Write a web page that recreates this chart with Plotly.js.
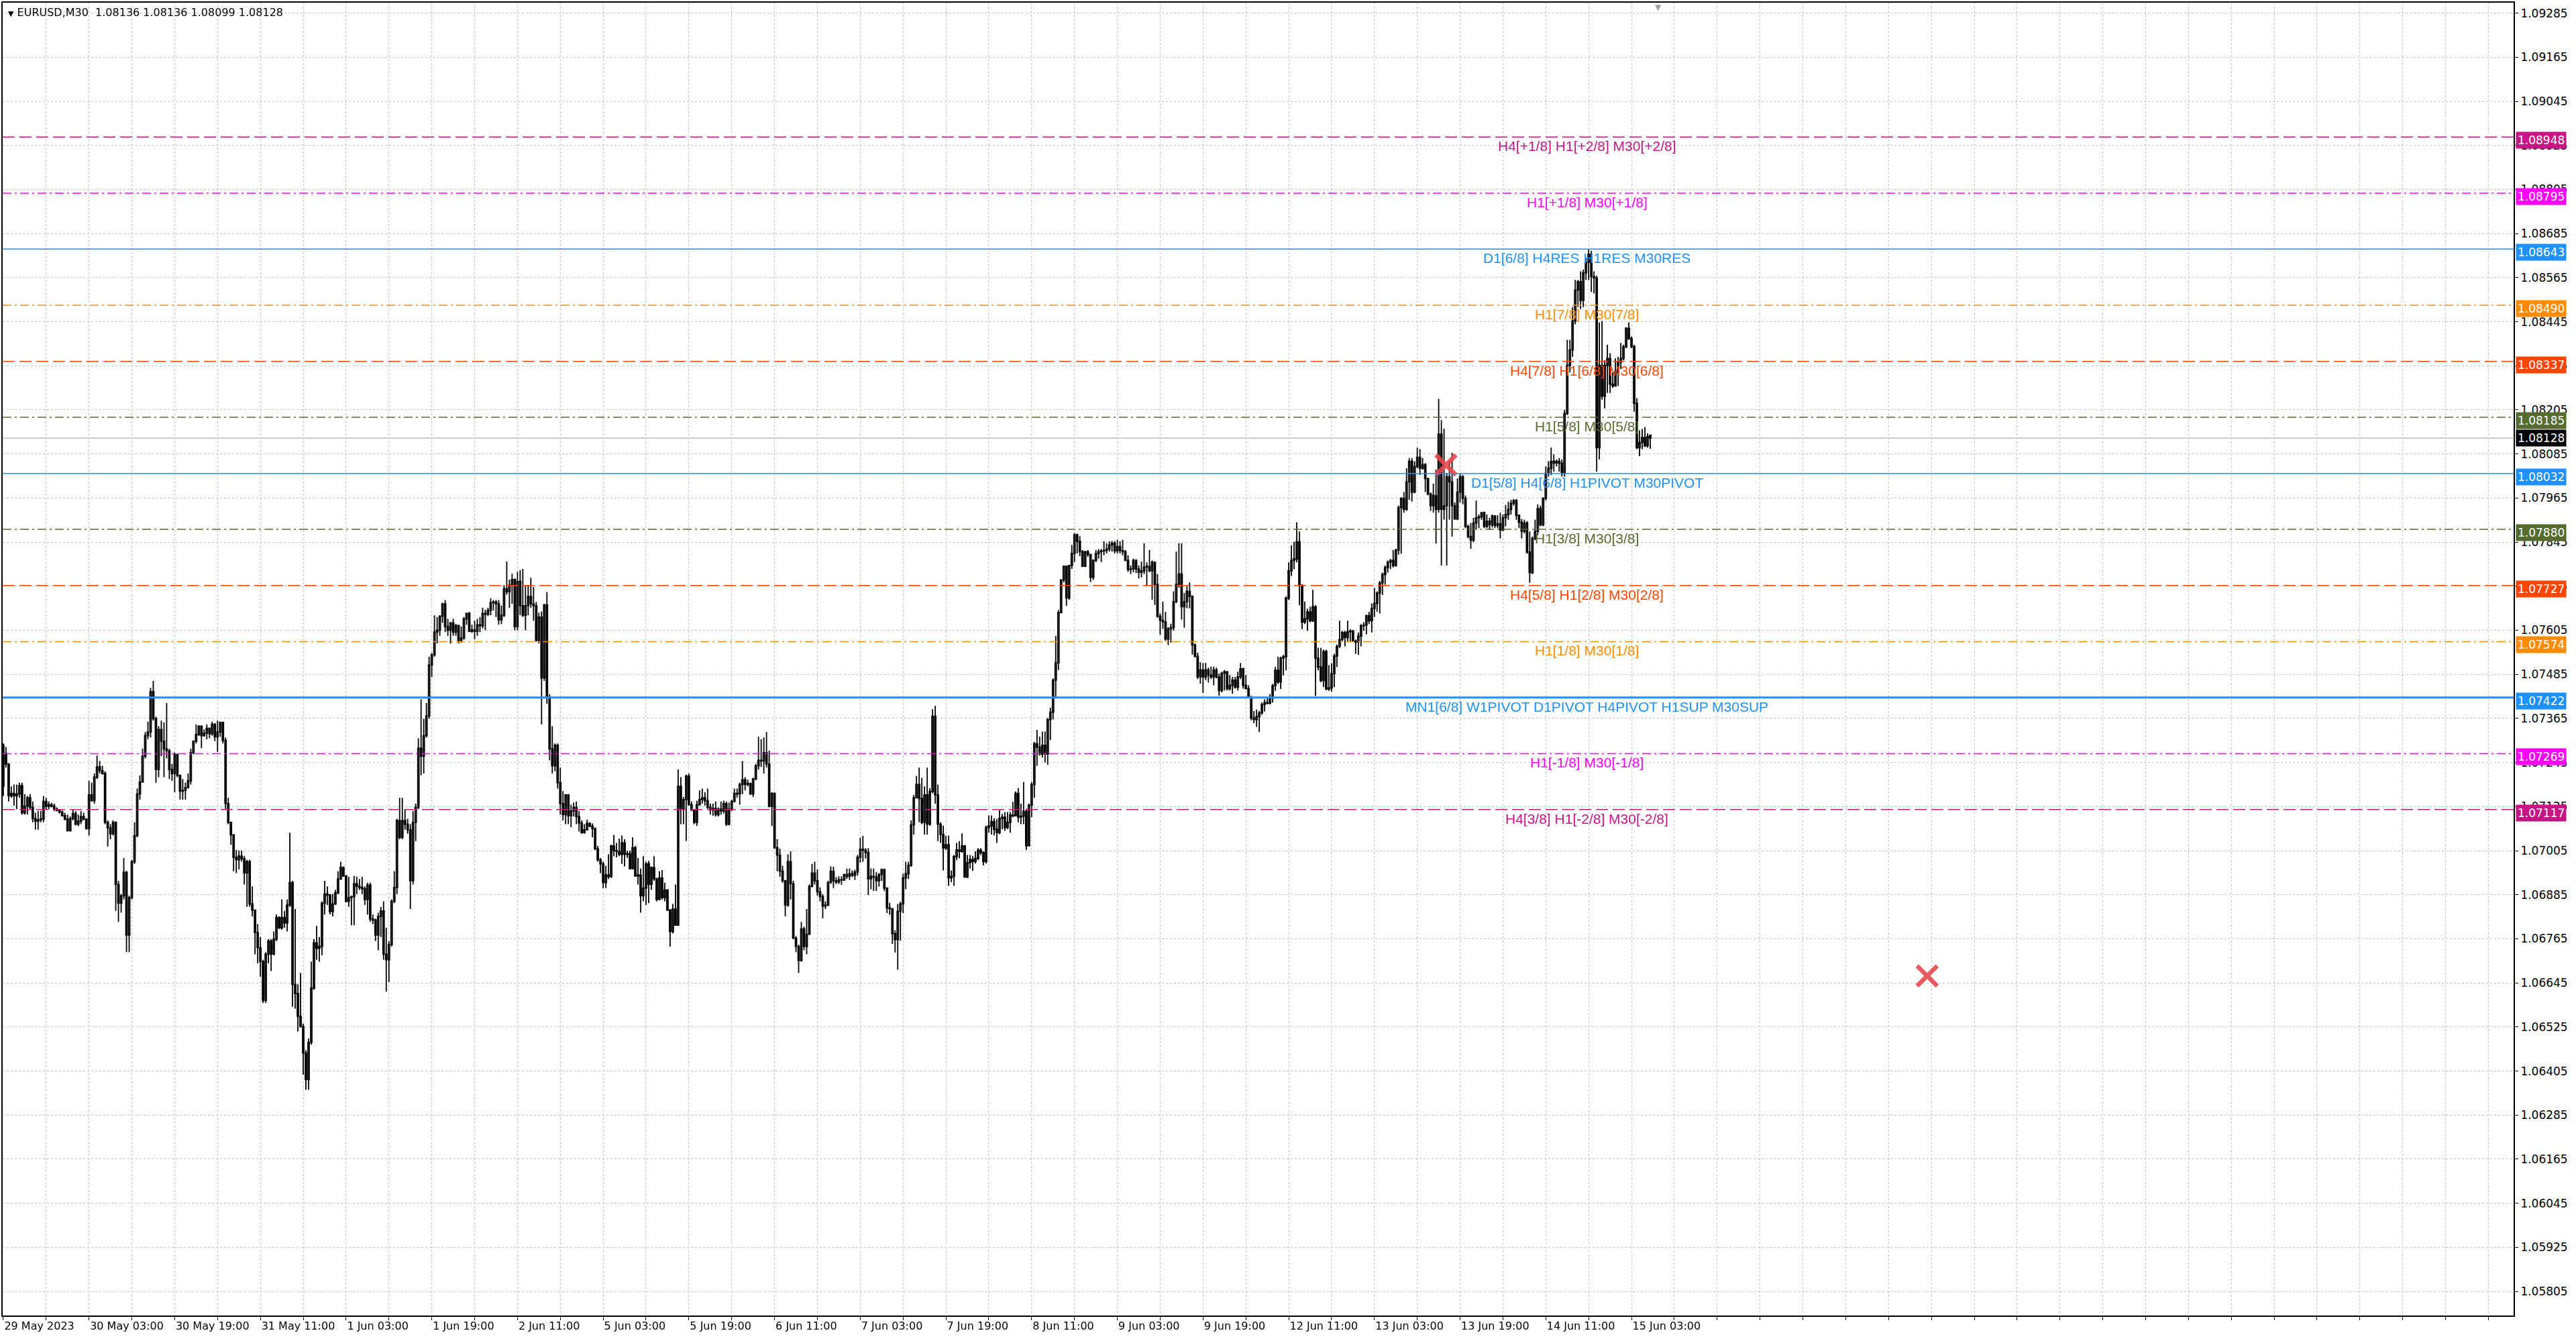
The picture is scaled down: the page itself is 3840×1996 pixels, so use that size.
<!DOCTYPE html>
<html>
<head>
<meta charset="utf-8">
<script src="https://cdn.plot.ly/plotly-3.0.1.min.js"></script>
<style>
  html, body { margin: 0; padding: 0; background: #fff; }
  #chart { width: 3840px; height: 1996px; }
</style>
</head>
<body>
<div id="chart"></div>
<script>
// EURUSD M30, 29 May 2023 - 15 Jun 2023
const symbol = 'EURUSD,M30';
const lastQuote = [1.08136, 1.08136, 1.08099, 1.08128];

const timeLabels = ['29 May 2023', '30 May 03:00', '30 May 19:00', '31 May 11:00', '1 Jun 03:00',
  '1 Jun 19:00', '2 Jun 11:00', '5 Jun 03:00', '5 Jun 19:00', '6 Jun 11:00', '7 Jun 03:00',
  '7 Jun 19:00', '8 Jun 11:00', '9 Jun 03:00', '9 Jun 19:00', '12 Jun 11:00', '13 Jun 03:00',
  '13 Jun 19:00', '14 Jun 11:00', '15 Jun 03:00'];
const barsPerLabel = 32;

const openP = [
1.07292,1.07270,1.07241,1.07154,1.07161,1.07154,1.07159,1.07182,1.07108,1.07126,
1.07149,1.07123,1.07092,1.07085,1.07089,1.07091,1.07139,1.07126,1.07130,1.07126,
1.07118,1.07114,1.07110,1.07100,1.07091,1.07059,1.07092,1.07106,1.07077,1.07085,
1.07098,1.07091,1.07065,1.07157,1.07141,1.07205,1.07233,1.07223,1.07215,1.07082,
1.07067,1.07051,1.07082,1.06913,1.06862,1.06882,1.06946,1.06775,1.06877,1.06975,
1.07046,1.07159,1.07192,1.07262,1.07318,1.07328,1.07438,1.07364,1.07226,1.07335,
1.07303,1.07282,1.07277,1.07226,1.07215,1.07267,1.07210,1.07167,1.07169,1.07177,
1.07195,1.07272,1.07303,1.07321,1.07344,1.07318,1.07325,1.07338,1.07323,1.07349,
1.07315,1.07328,1.07354,1.07305,1.07133,1.07082,1.07048,1.06987,1.06980,1.06990,
1.06983,1.06944,1.06975,1.06860,1.06843,1.06782,1.06741,1.06703,1.06597,1.06723,
1.06759,1.06723,1.06764,1.06823,1.06795,1.06823,1.06808,1.06857,1.06918,1.06641,
1.06616,1.06554,1.06526,1.06454,1.06382,1.06483,1.06631,1.06754,1.06739,1.06744,
1.06862,1.06887,1.06884,1.06839,1.06860,1.06890,1.06928,1.06959,1.06936,1.06867,
1.06877,1.06880,1.06915,1.06908,1.06905,1.06901,1.06872,1.06911,1.06819,1.06816,
1.06775,1.06826,1.06841,1.06723,1.06708,1.06749,1.06867,1.06905,1.07087,1.07041,
1.07087,1.07077,1.07062,1.06923,1.07082,1.07123,1.07284,1.07262,1.07318,1.07372,
1.07510,1.07538,1.07600,1.07605,1.07643,1.07677,1.07615,1.07605,1.07625,1.07600,
1.07618,1.07577,1.07584,1.07636,1.07651,1.07602,1.07606,1.07602,1.07620,1.07617,
1.07651,1.07648,1.07659,1.07680,1.07682,1.07677,1.07633,1.07646,1.07718,1.07710,
1.07728,1.07743,1.07615,1.07738,1.07672,1.07646,1.07672,1.07697,1.07677,1.07672,
1.07577,1.07641,1.07475,1.07674,1.07423,1.07282,1.07236,1.07292,1.07190,1.07133,
1.07103,1.07157,1.07100,1.07113,1.07123,1.07098,1.07080,1.07054,1.07062,1.07079,
1.07072,1.07065,1.07010,1.06980,1.06969,1.06918,1.06939,1.06934,1.07018,1.07005,
1.07003,1.06995,1.07026,1.06995,1.06997,1.06956,1.07013,1.06936,1.06939,1.06882,
1.06903,1.06969,1.06913,1.06959,1.06928,1.06872,1.06931,1.06877,1.06898,1.06843,
1.06785,1.06846,1.06802,1.07180,1.07118,1.07144,1.07208,1.07130,1.07116,1.07082,
1.07130,1.07144,1.07149,1.07141,1.07123,1.07116,1.07120,1.07103,1.07118,1.07113,
1.07133,1.07077,1.07118,1.07139,1.07161,1.07159,1.07185,1.07198,1.07185,1.07188,
1.07159,1.07200,1.07236,1.07251,1.07249,1.07272,1.07241,1.07126,1.07161,1.07013,
1.06993,1.06949,1.06923,1.06857,1.06975,1.06915,1.06767,1.06744,1.06706,1.06792,
1.06744,1.06778,1.06908,1.06944,1.06923,1.06893,1.06880,1.06854,1.06857,1.06918,
1.06949,1.06923,1.06920,1.06926,1.06925,1.06940,1.06935,1.06942,1.06938,1.06947,
1.06987,1.07009,1.07006,1.07000,1.06928,1.06935,1.06933,1.06923,1.06940,1.06953,
1.06903,1.06849,1.06847,1.06779,1.06763,1.06840,1.06860,1.06931,1.06942,1.06965,
1.07075,1.07149,1.07185,1.07147,1.07082,1.07157,1.07077,1.07166,1.07371,1.07157,
1.07077,1.07049,1.07012,1.07021,1.06931,1.06935,1.06989,1.07007,1.07003,1.07018,
1.06933,1.06972,1.06981,1.06975,1.06984,1.07006,1.07000,1.06975,1.07068,1.07073,
1.07084,1.07063,1.07054,1.07093,1.07096,1.07068,1.07082,1.07102,1.07100,1.07161,
1.07096,1.07099,1.07112,1.07018,1.07129,1.07185,1.07296,1.07287,1.07268,1.07292,
1.07268,1.07362,1.07382,1.07469,1.07516,1.07653,1.07742,1.07779,1.07693,1.07781,
1.07814,1.07865,1.07847,1.07819,1.07779,1.07819,1.07811,1.07749,1.07795,1.07814,
1.07819,1.07821,1.07822,1.07826,1.07837,1.07842,1.07821,1.07833,1.07822,1.07819,
1.07795,1.07770,1.07772,1.07795,1.07772,1.07763,1.07767,1.07777,1.07779,1.07767,
1.07790,1.07730,1.07643,1.07632,1.07628,1.07581,1.07609,1.07612,1.07683,1.07730,
1.07758,1.07669,1.07683,1.07711,1.07697,1.07565,1.07534,1.07478,1.07497,1.07478,
1.07497,1.07483,1.07478,1.07497,1.07478,1.07441,1.07488,1.07492,1.07446,1.07455,
1.07469,1.07450,1.07478,1.07500,1.07455,1.07446,1.07422,1.07366,1.07362,1.07370,
1.07380,1.07403,1.07408,1.07406,1.07421,1.07454,1.07496,1.07464,1.07529,1.07533,
1.07692,1.07767,1.07795,1.07799,1.07846,1.07727,1.07627,1.07636,1.07655,1.07631,
1.07669,1.07529,1.07505,1.07468,1.07547,1.07445,1.07448,1.07487,1.07535,1.07561,
1.07580,1.07599,1.07585,1.07601,1.07603,1.07575,1.07573,1.07589,1.07617,1.07619,
1.07645,1.07631,1.07664,1.07678,1.07706,1.07734,1.07757,1.07776,1.07790,1.07795,
1.07781,1.07823,1.07939,1.07964,1.07934,1.08009,1.08065,1.07981,1.08051,1.08076,
1.08046,1.08056,1.08018,1.07976,1.07944,1.07972,1.07934,1.08139,1.07934,1.07944,
1.08023,1.08009,1.07944,1.07908,1.07981,1.08023,1.07964,1.07888,1.07860,1.07850,
1.07897,1.07911,1.07914,1.07925,1.07888,1.07902,1.07892,1.07916,1.07890,1.07895,
1.07878,1.07911,1.07920,1.07934,1.07951,1.07958,1.07918,1.07899,1.07874,1.07897,
1.07818,1.07762,1.07855,1.07874,1.07936,1.07892,1.07964,1.08032,1.08046,1.08065,
1.08060,1.08065,1.08060,1.08032,1.08195,1.08326,1.08368,1.08447,1.08531,1.08554,
1.08503,1.08578,1.08606,1.08629,1.08568,1.08564,1.08102,1.08326,1.08242,1.08326,
1.08345,1.08275,1.08270,1.08307,1.08335,1.08345,1.08377,1.08427,1.08399,1.08377,
1.08223,1.08102,1.08116,1.08130,1.08107,1.08136];

const highP = [
1.07297,1.07287,1.07243,1.07180,1.07185,1.07185,1.07190,1.07190,1.07159,1.07154,
1.07159,1.07139,1.07108,1.07113,1.07113,1.07154,1.07149,1.07139,1.07135,1.07133,
1.07123,1.07118,1.07114,1.07108,1.07103,1.07098,1.07118,1.07113,1.07103,1.07113,
1.07108,1.07092,1.07195,1.07190,1.07215,1.07264,1.07249,1.07236,1.07221,1.07087,
1.07077,1.07087,1.07085,1.06923,1.06887,1.06985,1.06950,1.06882,1.06980,1.07082,
1.07174,1.07210,1.07282,1.07328,1.07356,1.07448,1.07467,1.07370,1.07344,1.07359,
1.07354,1.07407,1.07282,1.07241,1.07272,1.07270,1.07212,1.07200,1.07190,1.07215,
1.07282,1.07305,1.07349,1.07346,1.07346,1.07335,1.07349,1.07340,1.07356,1.07352,
1.07359,1.07356,1.07356,1.07313,1.07149,1.07084,1.07050,1.07007,1.07005,1.07005,
1.06990,1.06980,1.06980,1.06908,1.06845,1.06805,1.06770,1.06708,1.06729,1.06764,
1.06764,1.06785,1.06831,1.06826,1.06872,1.06841,1.06872,1.07054,1.06923,1.06846,
1.06641,1.06672,1.06534,1.06462,1.06493,1.06703,1.06764,1.06800,1.06770,1.06867,
1.06923,1.06908,1.06887,1.06887,1.06898,1.06949,1.06975,1.06962,1.06939,1.06934,
1.06882,1.06936,1.06934,1.06928,1.06934,1.06908,1.06918,1.06918,1.06831,1.06820,
1.06836,1.06852,1.06867,1.06795,1.06759,1.06872,1.06949,1.07092,1.07149,1.07149,
1.07118,1.07092,1.07077,1.07113,1.07133,1.07311,1.07417,1.07364,1.07407,1.07533,
1.07543,1.07646,1.07641,1.07646,1.07680,1.07687,1.07636,1.07628,1.07636,1.07622,
1.07620,1.07615,1.07641,1.07653,1.07655,1.07620,1.07631,1.07636,1.07641,1.07666,
1.07661,1.07666,1.07692,1.07687,1.07687,1.07687,1.07672,1.07728,1.07792,1.07743,
1.07759,1.07746,1.07764,1.07769,1.07772,1.07728,1.07728,1.07748,1.07723,1.07682,
1.07653,1.07656,1.07677,1.07709,1.07431,1.07344,1.07297,1.07297,1.07231,1.07167,
1.07159,1.07159,1.07130,1.07136,1.07139,1.07113,1.07087,1.07077,1.07089,1.07082,
1.07079,1.07068,1.07018,1.06985,1.06975,1.06964,1.06995,1.07021,1.07048,1.07026,
1.07038,1.07046,1.07036,1.07005,1.07005,1.07041,1.07018,1.06985,1.06956,1.06990,
1.06975,1.06977,1.06962,1.06990,1.06931,1.06949,1.06952,1.06918,1.06900,1.06846,
1.06860,1.06913,1.07226,1.07205,1.07151,1.07212,1.07215,1.07139,1.07118,1.07141,
1.07169,1.07174,1.07164,1.07174,1.07133,1.07133,1.07139,1.07123,1.07139,1.07141,
1.07139,1.07136,1.07144,1.07174,1.07174,1.07190,1.07249,1.07205,1.07198,1.07190,
1.07203,1.07241,1.07315,1.07308,1.07313,1.07328,1.07277,1.07164,1.07163,1.07036,
1.07010,1.06964,1.06925,1.06995,1.07003,1.06923,1.06772,1.06749,1.06811,1.06798,
1.06846,1.06913,1.06969,1.06975,1.06954,1.06905,1.06887,1.06867,1.06923,1.06962,
1.06961,1.06933,1.06935,1.06935,1.06942,1.06956,1.06956,1.06951,1.06953,1.06993,
1.07040,1.07045,1.07012,1.07012,1.06956,1.06956,1.06947,1.06944,1.06956,1.06956,
1.06905,1.06863,1.06849,1.06788,1.06860,1.06866,1.06942,1.06975,1.06975,1.07087,
1.07157,1.07208,1.07231,1.07203,1.07180,1.07231,1.07175,1.07390,1.07399,1.07185,
1.07082,1.07073,1.07045,1.07046,1.06951,1.06993,1.07026,1.07031,1.07052,1.07020,
1.06993,1.06993,1.06991,1.07003,1.07012,1.07012,1.07003,1.07073,1.07101,1.07101,
1.07093,1.07091,1.07115,1.07105,1.07110,1.07110,1.07110,1.07138,1.07166,1.07175,
1.07133,1.07192,1.07119,1.07133,1.07192,1.07301,1.07334,1.07315,1.07329,1.07329,
1.07366,1.07394,1.07474,1.07590,1.07660,1.07744,1.07781,1.07781,1.07783,1.07837,
1.07870,1.07868,1.07861,1.07823,1.07821,1.07823,1.07813,1.07798,1.07823,1.07826,
1.07826,1.07847,1.07842,1.07847,1.07848,1.07848,1.07851,1.07847,1.07851,1.07823,
1.07809,1.07781,1.07800,1.07798,1.07781,1.07792,1.07842,1.07790,1.07823,1.07795,
1.07792,1.07758,1.07651,1.07683,1.07655,1.07613,1.07623,1.07711,1.07819,1.07842,
1.07842,1.07707,1.07725,1.07735,1.07700,1.07569,1.07544,1.07518,1.07516,1.07516,
1.07503,1.07506,1.07506,1.07503,1.07487,1.07492,1.07497,1.07494,1.07483,1.07478,
1.07478,1.07492,1.07516,1.07503,1.07483,1.07455,1.07427,1.07385,1.07389,1.07385,
1.07408,1.07417,1.07421,1.07431,1.07459,1.07505,1.07533,1.07533,1.07538,1.07697,
1.07790,1.07836,1.07846,1.07899,1.07874,1.07730,1.07683,1.07664,1.07669,1.07715,
1.07673,1.07557,1.07557,1.07552,1.07552,1.07510,1.07515,1.07541,1.07566,1.07631,
1.07603,1.07603,1.07631,1.07608,1.07606,1.07580,1.07599,1.07622,1.07627,1.07647,
1.07655,1.07678,1.07720,1.07711,1.07739,1.07762,1.07781,1.07795,1.07799,1.07823,
1.07827,1.07944,1.07967,1.07981,1.08046,1.08074,1.08074,1.08065,1.08102,1.08098,
1.08074,1.08060,1.08020,1.07980,1.08004,1.08042,1.08235,1.08177,1.08154,1.08032,
1.08065,1.08088,1.07953,1.08018,1.08032,1.08028,1.07972,1.07892,1.07897,1.07911,
1.07958,1.07920,1.07927,1.07928,1.07920,1.07911,1.07920,1.07918,1.07918,1.07925,
1.07920,1.07946,1.07955,1.07960,1.07962,1.07962,1.07920,1.07908,1.07906,1.07902,
1.07874,1.07860,1.07906,1.07948,1.07944,1.07967,1.08051,1.08065,1.08102,1.08084,
1.08070,1.08074,1.08070,1.08205,1.08396,1.08396,1.08485,1.08559,1.08559,1.08582,
1.08587,1.08620,1.08643,1.08638,1.08582,1.08570,1.08443,1.08447,1.08340,1.08382,
1.08359,1.08307,1.08345,1.08349,1.08387,1.08382,1.08430,1.08443,1.08405,1.08382,
1.08237,1.08149,1.08153,1.08158,1.08141,1.08136];

const lowP = [
1.07154,1.07231,1.07139,1.07149,1.07128,1.07118,1.07149,1.07103,1.07103,1.07103,
1.07118,1.07082,1.07062,1.07062,1.07082,1.07082,1.07118,1.07118,1.07123,1.07113,
1.07113,1.07106,1.07098,1.07087,1.07057,1.07057,1.07087,1.07074,1.07072,1.07077,
1.07087,1.07062,1.07046,1.07139,1.07133,1.07200,1.07215,1.07212,1.07077,1.07016,
1.07036,1.07046,1.06841,1.06811,1.06836,1.06872,1.06729,1.06729,1.06872,1.06969,
1.07041,1.07144,1.07190,1.07256,1.07308,1.07313,1.07359,1.07190,1.07205,1.07262,
1.07205,1.07256,1.07200,1.07195,1.07164,1.07205,1.07144,1.07144,1.07144,1.07174,
1.07185,1.07267,1.07297,1.07318,1.07284,1.07315,1.07308,1.07311,1.07318,1.07303,
1.07274,1.07315,1.07297,1.07118,1.07077,1.07021,1.06949,1.06944,1.06954,1.06975,
1.06913,1.06852,1.06852,1.06826,1.06723,1.06698,1.06662,1.06590,1.06590,1.06698,
1.06677,1.06720,1.06759,1.06792,1.06790,1.06795,1.06785,1.06852,1.06580,1.06575,
1.06513,1.06524,1.06395,1.06354,1.06354,1.06477,1.06626,1.06708,1.06703,1.06720,
1.06831,1.06857,1.06831,1.06826,1.06857,1.06887,1.06925,1.06934,1.06864,1.06852,
1.06802,1.06802,1.06887,1.06898,1.06887,1.06857,1.06831,1.06811,1.06805,1.06759,
1.06734,1.06770,1.06708,1.06621,1.06647,1.06744,1.06862,1.06887,1.07036,1.07036,
1.07062,1.07051,1.06846,1.06913,1.07031,1.07118,1.07210,1.07215,1.07313,1.07364,
1.07477,1.07533,1.07569,1.07590,1.07625,1.07600,1.07590,1.07569,1.07590,1.07590,
1.07569,1.07571,1.07579,1.07620,1.07600,1.07598,1.07581,1.07590,1.07600,1.07610,
1.07605,1.07644,1.07646,1.07659,1.07641,1.07620,1.07622,1.07641,1.07702,1.07666,
1.07677,1.07605,1.07605,1.07646,1.07641,1.07605,1.07646,1.07666,1.07631,1.07574,
1.07569,1.07349,1.07467,1.07405,1.07251,1.07215,1.07221,1.07174,1.07103,1.07087,
1.07077,1.07077,1.07069,1.07098,1.07077,1.07057,1.07051,1.07051,1.07060,1.07069,
1.07041,1.07007,1.06975,1.06944,1.06903,1.06903,1.06928,1.06931,1.06990,1.06987,
1.06990,1.06969,1.06962,1.06985,1.06954,1.06954,1.06934,1.06913,1.06836,1.06867,
1.06857,1.06862,1.06898,1.06923,1.06867,1.06870,1.06872,1.06867,1.06841,1.06744,
1.06780,1.06800,1.06800,1.07077,1.07077,1.07031,1.07128,1.07113,1.07077,1.07072,
1.07128,1.07133,1.07128,1.07118,1.07103,1.07100,1.07098,1.07098,1.07103,1.07106,
1.07072,1.07074,1.07113,1.07136,1.07149,1.07130,1.07159,1.07169,1.07180,1.07157,
1.07151,1.07197,1.07226,1.07233,1.07215,1.07231,1.07123,1.07072,1.07010,1.06949,
1.06934,1.06918,1.06826,1.06852,1.06872,1.06764,1.06729,1.06672,1.06703,1.06734,
1.06723,1.06775,1.06905,1.06913,1.06882,1.06867,1.06821,1.06846,1.06854,1.06915,
1.06903,1.06914,1.06914,1.06912,1.06923,1.06928,1.06925,1.06933,1.06925,1.06937,
1.06972,1.06975,1.06984,1.06884,1.06900,1.06895,1.06895,1.06907,1.06923,1.06895,
1.06835,1.06830,1.06751,1.06728,1.06681,1.06760,1.06835,1.06900,1.06928,1.06961,
1.07049,1.07147,1.07082,1.07077,1.07049,1.07049,1.07073,1.07161,1.07133,1.07031,
1.07026,1.06951,1.07007,1.06909,1.06919,1.06909,1.06979,1.06984,1.06999,1.06931,
1.06930,1.06956,1.06950,1.06970,1.06979,1.06993,1.06965,1.06970,1.07054,1.07049,
1.07046,1.07026,1.07050,1.07063,1.07059,1.07064,1.07054,1.07096,1.07098,1.07082,
1.07077,1.07077,1.07007,1.07017,1.07096,1.07149,1.07236,1.07264,1.07259,1.07245,
1.07239,1.07306,1.07362,1.07422,1.07497,1.07651,1.07735,1.07671,1.07688,1.07772,
1.07791,1.07814,1.07807,1.07777,1.07777,1.07805,1.07736,1.07742,1.07791,1.07800,
1.07791,1.07809,1.07814,1.07819,1.07819,1.07814,1.07814,1.07814,1.07809,1.07793,
1.07764,1.07758,1.07763,1.07761,1.07746,1.07749,1.07758,1.07725,1.07763,1.07688,
1.07674,1.07639,1.07593,1.07609,1.07576,1.07565,1.07571,1.07604,1.07679,1.07721,
1.07634,1.07612,1.07665,1.07665,1.07539,1.07531,1.07472,1.07460,1.07434,1.07469,
1.07463,1.07472,1.07455,1.07474,1.07427,1.07436,1.07441,1.07441,1.07441,1.07432,
1.07446,1.07441,1.07472,1.07446,1.07444,1.07420,1.07360,1.07352,1.07342,1.07328,
1.07375,1.07384,1.07403,1.07403,1.07408,1.07440,1.07459,1.07445,1.07482,1.07496,
1.07687,1.07753,1.07771,1.07790,1.07673,1.07608,1.07622,1.07603,1.07627,1.07628,
1.07426,1.07496,1.07464,1.07450,1.07442,1.07440,1.07438,1.07450,1.07505,1.07557,
1.07575,1.07561,1.07575,1.07575,1.07573,1.07541,1.07538,1.07561,1.07603,1.07594,
1.07622,1.07599,1.07641,1.07655,1.07650,1.07701,1.07729,1.07762,1.07771,1.07776,
1.07778,1.07811,1.07813,1.07925,1.07930,1.07960,1.07955,1.07978,1.08046,1.08028,
1.08042,1.07981,1.07972,1.07930,1.07925,1.07841,1.07925,1.07781,1.07906,1.07781,
1.07906,1.07860,1.07906,1.07905,1.07953,1.07948,1.07883,1.07855,1.07827,1.07845,
1.07878,1.07883,1.07906,1.07883,1.07883,1.07878,1.07885,1.07883,1.07883,1.07855,
1.07875,1.07888,1.07906,1.07920,1.07944,1.07906,1.07883,1.07855,1.07869,1.07813,
1.07734,1.07758,1.07850,1.07864,1.07888,1.07888,1.07958,1.08023,1.08028,1.08037,
1.08051,1.08037,1.08023,1.08023,1.08191,1.08307,1.08349,1.08438,1.08485,1.08480,
1.08485,1.08559,1.08559,1.08526,1.08522,1.08037,1.08070,1.08233,1.08209,1.08251,
1.08251,1.08265,1.08268,1.08270,1.08317,1.08340,1.08373,1.08396,1.08373,1.08200,
1.08098,1.08079,1.08098,1.08104,1.08102,1.08099];

const closeP = [
1.07180,1.07241,1.07154,1.07161,1.07154,1.07159,1.07182,1.07108,1.07126,1.07149,
1.07123,1.07092,1.07085,1.07089,1.07091,1.07139,1.07126,1.07130,1.07126,1.07118,
1.07114,1.07110,1.07100,1.07091,1.07059,1.07092,1.07106,1.07077,1.07085,1.07098,
1.07091,1.07065,1.07157,1.07141,1.07205,1.07233,1.07223,1.07215,1.07082,1.07067,
1.07051,1.07082,1.06913,1.06862,1.06882,1.06946,1.06775,1.06877,1.06975,1.07046,
1.07159,1.07192,1.07262,1.07318,1.07328,1.07438,1.07364,1.07226,1.07335,1.07303,
1.07282,1.07277,1.07226,1.07215,1.07267,1.07210,1.07167,1.07169,1.07177,1.07195,
1.07272,1.07303,1.07321,1.07344,1.07318,1.07325,1.07338,1.07323,1.07349,1.07315,
1.07328,1.07354,1.07305,1.07133,1.07082,1.07048,1.06987,1.06980,1.06990,1.06983,
1.06944,1.06975,1.06860,1.06843,1.06782,1.06741,1.06703,1.06597,1.06723,1.06759,
1.06723,1.06764,1.06823,1.06795,1.06823,1.06808,1.06857,1.06918,1.06641,1.06616,
1.06554,1.06526,1.06454,1.06382,1.06483,1.06631,1.06754,1.06739,1.06744,1.06862,
1.06887,1.06884,1.06839,1.06860,1.06890,1.06928,1.06959,1.06936,1.06867,1.06877,
1.06880,1.06915,1.06908,1.06905,1.06901,1.06872,1.06911,1.06819,1.06816,1.06775,
1.06826,1.06841,1.06723,1.06708,1.06749,1.06867,1.06905,1.07087,1.07041,1.07087,
1.07077,1.07062,1.06923,1.07082,1.07123,1.07284,1.07262,1.07318,1.07372,1.07510,
1.07538,1.07600,1.07605,1.07643,1.07677,1.07615,1.07605,1.07625,1.07600,1.07618,
1.07577,1.07584,1.07636,1.07651,1.07602,1.07606,1.07602,1.07620,1.07617,1.07651,
1.07648,1.07659,1.07680,1.07682,1.07677,1.07633,1.07646,1.07718,1.07710,1.07728,
1.07743,1.07615,1.07738,1.07672,1.07646,1.07672,1.07697,1.07677,1.07672,1.07577,
1.07641,1.07475,1.07674,1.07423,1.07282,1.07236,1.07292,1.07190,1.07133,1.07103,
1.07157,1.07100,1.07113,1.07123,1.07098,1.07080,1.07054,1.07062,1.07079,1.07072,
1.07065,1.07010,1.06980,1.06969,1.06918,1.06939,1.06934,1.07018,1.07005,1.07003,
1.06995,1.07026,1.06995,1.06997,1.06956,1.07013,1.06936,1.06939,1.06882,1.06903,
1.06969,1.06913,1.06959,1.06928,1.06872,1.06931,1.06877,1.06898,1.06843,1.06785,
1.06846,1.06802,1.07180,1.07118,1.07144,1.07208,1.07130,1.07116,1.07082,1.07130,
1.07144,1.07149,1.07141,1.07123,1.07116,1.07120,1.07103,1.07118,1.07113,1.07133,
1.07077,1.07118,1.07139,1.07161,1.07159,1.07185,1.07198,1.07185,1.07188,1.07159,
1.07200,1.07236,1.07251,1.07249,1.07272,1.07241,1.07126,1.07161,1.07013,1.06993,
1.06949,1.06923,1.06857,1.06975,1.06915,1.06767,1.06744,1.06706,1.06792,1.06744,
1.06778,1.06908,1.06944,1.06923,1.06893,1.06880,1.06854,1.06857,1.06918,1.06949,
1.06923,1.06920,1.06926,1.06925,1.06940,1.06935,1.06942,1.06938,1.06947,1.06987,
1.07009,1.07006,1.07000,1.06928,1.06935,1.06933,1.06923,1.06940,1.06953,1.06903,
1.06849,1.06847,1.06779,1.06763,1.06840,1.06860,1.06931,1.06942,1.06965,1.07075,
1.07149,1.07185,1.07147,1.07082,1.07157,1.07077,1.07166,1.07371,1.07157,1.07077,
1.07049,1.07012,1.07021,1.06931,1.06935,1.06989,1.07007,1.07003,1.07018,1.06933,
1.06972,1.06981,1.06975,1.06984,1.07006,1.07000,1.06975,1.07068,1.07073,1.07084,
1.07063,1.07054,1.07093,1.07096,1.07068,1.07082,1.07102,1.07100,1.07161,1.07096,
1.07099,1.07112,1.07018,1.07129,1.07185,1.07296,1.07287,1.07268,1.07292,1.07268,
1.07362,1.07382,1.07469,1.07516,1.07653,1.07742,1.07779,1.07693,1.07781,1.07814,
1.07865,1.07847,1.07819,1.07779,1.07819,1.07811,1.07749,1.07795,1.07814,1.07819,
1.07821,1.07822,1.07826,1.07837,1.07842,1.07821,1.07833,1.07822,1.07819,1.07795,
1.07770,1.07772,1.07795,1.07772,1.07763,1.07767,1.07777,1.07779,1.07767,1.07790,
1.07730,1.07643,1.07632,1.07628,1.07581,1.07609,1.07612,1.07683,1.07730,1.07758,
1.07669,1.07683,1.07711,1.07697,1.07565,1.07534,1.07478,1.07497,1.07478,1.07497,
1.07483,1.07478,1.07497,1.07478,1.07441,1.07488,1.07492,1.07446,1.07455,1.07469,
1.07450,1.07478,1.07500,1.07455,1.07446,1.07422,1.07366,1.07362,1.07370,1.07380,
1.07403,1.07408,1.07406,1.07421,1.07454,1.07496,1.07464,1.07529,1.07533,1.07692,
1.07767,1.07795,1.07799,1.07846,1.07727,1.07627,1.07636,1.07655,1.07631,1.07669,
1.07529,1.07505,1.07468,1.07547,1.07445,1.07448,1.07487,1.07535,1.07561,1.07580,
1.07599,1.07585,1.07601,1.07603,1.07575,1.07573,1.07589,1.07617,1.07619,1.07645,
1.07631,1.07664,1.07678,1.07706,1.07734,1.07757,1.07776,1.07790,1.07795,1.07781,
1.07823,1.07939,1.07964,1.07934,1.08009,1.08065,1.07981,1.08051,1.08076,1.08046,
1.08056,1.08018,1.07976,1.07944,1.07972,1.07934,1.08139,1.07934,1.07944,1.08023,
1.08009,1.07944,1.07908,1.07981,1.08023,1.07964,1.07888,1.07860,1.07850,1.07897,
1.07911,1.07914,1.07925,1.07888,1.07902,1.07892,1.07916,1.07890,1.07895,1.07878,
1.07911,1.07920,1.07934,1.07951,1.07958,1.07918,1.07899,1.07874,1.07897,1.07818,
1.07762,1.07855,1.07874,1.07936,1.07892,1.07964,1.08032,1.08046,1.08065,1.08060,
1.08065,1.08060,1.08032,1.08195,1.08326,1.08368,1.08447,1.08531,1.08554,1.08503,
1.08578,1.08606,1.08629,1.08568,1.08564,1.08102,1.08326,1.08242,1.08326,1.08345,
1.08275,1.08270,1.08307,1.08335,1.08345,1.08377,1.08427,1.08399,1.08377,1.08223,
1.08102,1.08116,1.08130,1.08107,1.08132,1.08128];

// Murrey-math style levels drawn by the indicator
const levels = [1.08948, 1.08795, 1.08643, 1.08490, 1.08337, 1.08185, 1.08032,
  1.07880, 1.07727, 1.07574, 1.07422, 1.07269, 1.07117];
const levelNames = [
  'H4[+1/8] H1[+2/8] M30[+2/8]',
  'H1[+1/8] M30[+1/8]',
  'D1[6/8] H4RES H1RES M30RES',
  'H1[7/8] M30[7/8]',
  'H4[7/8] H1[6/8] M30[6/8]',
  'H1[5/8] M30[5/8]',
  'D1[5/8] H4[6/8] H1PIVOT M30PIVOT',
  'H1[3/8] M30[3/8]',
  'H4[5/8] H1[2/8] M30[2/8]',
  'H1[1/8] M30[1/8]',
  'MN1[6/8] W1PIVOT D1PIVOT H4PIVOT H1SUP M30SUP',
  'H1[-1/8] M30[-1/8]',
  'H4[3/8] H1[-2/8] M30[-2/8]'];

// the two red cross objects on the chart
const markBar = [538.7, 718.4];
const markPrice = [1.08055, 1.06664];

// ---- styling ----
const VIOLET = '#C71585', MAGENTA = '#FF00FF', BLUE = '#1E90FF',
      ORANGE = '#FF8C00', RED = '#FF4500', OLIVE = '#556B2F';
const LONGDASH = '18px,7px', DASHDOT = '13px,5px,3px,5px';
const levelColors = [VIOLET, MAGENTA, BLUE, ORANGE, RED, OLIVE, BLUE, OLIVE, RED, ORANGE, BLUE, MAGENTA, VIOLET];
const levelDash = [LONGDASH, DASHDOT, 'solid', DASHDOT, LONGDASH, DASHDOT, 'solid',
  DASHDOT, LONGDASH, DASHDOT, 'solid', DASHDOT, LONGDASH];
const levelWidth = [1.5, 1.5, 1.5, 1.5, 1.5, 1.5, 1.5, 1.5, 1.5, 1.5, 3, 1.5, 1.5];

const bars = closeP.map((_, i) => i);

const tickVals = [];
const tickText = [];
for (let v = 0; v <= 936; v += barsPerLabel / 2) {
  const k = v / barsPerLabel;
  tickVals.push(v);
  tickText.push(Number.isInteger(k) && k < timeLabels.length ? timeLabels[k] : '');
}

const data = [
  {
    type: 'candlestick',
    x: bars, open: openP, high: highP, low: lowP, close: closeP,
    increasing: { line: { color: '#000000', width: 1.8 }, fillcolor: '#ffffff' },
    decreasing: { line: { color: '#000000', width: 1.8 }, fillcolor: '#000000' },
    whiskerwidth: 0,
    hoverinfo: 'skip',
    showlegend: false
  },
  {
    type: 'scatter', mode: 'markers',
    x: markBar, y: markPrice,
    marker: { symbol: 'x-thin', size: 30, color: '#e8474c', line: { color: '#e8474c', width: 6.5 } },
    opacity: 0.9,
    hoverinfo: 'skip',
    showlegend: false
  }
];

const shapes = levels.map((lv, i) => ({
  type: 'line', xref: 'paper', x0: 0, x1: 1, yref: 'y', y0: lv, y1: lv,
  line: { color: levelColors[i], width: levelWidth[i], dash: levelDash[i] },
  layer: 'above'
}));
shapes.push({
  type: 'line', xref: 'paper', x0: 0, x1: 1, yref: 'y', y0: lastQuote[3], y1: lastQuote[3],
  line: { color: '#c0c0c0', width: 1.5 }, layer: 'below'
});

const annotations = [];
levels.forEach((lv, i) => {
  annotations.push({
    xref: 'paper', x: 0.631, yref: 'y', y: lv,
    xanchor: 'center', yanchor: 'top', showarrow: false,
    text: levelNames[i],
    font: { family: 'Liberation Sans, Arial, sans-serif', size: 21, color: levelColors[i] }
  });
  annotations.push({
    xref: 'paper', x: 1, xanchor: 'left', xshift: 3, yref: 'y', y: lv, yanchor: 'middle', yshift: -5,
    showarrow: false, text: lv.toFixed(5), bgcolor: levelColors[i], borderpad: 2,
    font: { family: 'DejaVu Sans, sans-serif', size: 17, color: '#ffffff' }
  });
});
annotations.push({
  xref: 'paper', x: 1, xanchor: 'left', xshift: 3, yref: 'y', y: lastQuote[3], yanchor: 'middle',
  showarrow: false, text: lastQuote[3].toFixed(5), bgcolor: '#000000', borderpad: 2,
  font: { family: 'DejaVu Sans, sans-serif', size: 17, color: '#ffffff' }
});
annotations.push({
  xref: 'paper', x: 0, xanchor: 'left', xshift: 6, yref: 'paper', y: 1, yanchor: 'top', yshift: -3,
  showarrow: false, align: 'left',
  text: '<span style="font-size:11px">▼</span> ' + symbol + '  ' + lastQuote.map(v => v.toFixed(5)).join(' '),
  font: { family: 'DejaVu Sans, sans-serif', size: 16, color: '#000000' }
});
annotations.push({
  xref: 'x', x: bars[bars.length - 1] + 3, yref: 'paper', y: 1, yanchor: 'top', yshift: 2,
  showarrow: false, text: '▼', font: { size: 12, color: '#a0a0a0' }
});

const gridColor = '#c4c4c4';
const layout = {
  width: 3840, height: 1996,
  margin: { l: 4, r: 93, t: 4, b: 35 },
  paper_bgcolor: '#ffffff', plot_bgcolor: '#ffffff',
  font: { family: 'DejaVu Sans, sans-serif', size: 17, color: '#000000' },
  showlegend: false,
  hovermode: false,
  xaxis: {
    range: [-0.23, 937.4],
    tickmode: 'array', tickvals: tickVals, ticktext: tickText,
    ticks: 'outside', ticklen: 5, tickcolor: '#000000',
    ticklabelposition: 'outside right',
    tickfont: { size: 16 },
    showgrid: true, gridcolor: gridColor, griddash: '3px,3px', gridwidth: 1,
    showline: true, linecolor: '#000000', linewidth: 2, mirror: true,
    zeroline: false, rangeslider: { visible: false }, fixedrange: true
  },
  yaxis: {
    side: 'right',
    range: [1.057394, 1.093135],
    tickmode: 'linear', tick0: 1.05805, dtick: 0.0012, tickformat: '.5f',
    ticks: 'outside', ticklen: 5, tickcolor: '#000000',
    tickfont: { size: 17 },
    showgrid: true, gridcolor: gridColor, griddash: '3px,3px', gridwidth: 1,
    showline: true, linecolor: '#000000', linewidth: 2, mirror: true,
    zeroline: false, fixedrange: true
  },
  shapes: shapes,
  annotations: annotations
};

Plotly.newPlot('chart', data, layout, { displayModeBar: false, staticPlot: true });
</script>
</body>
</html>
